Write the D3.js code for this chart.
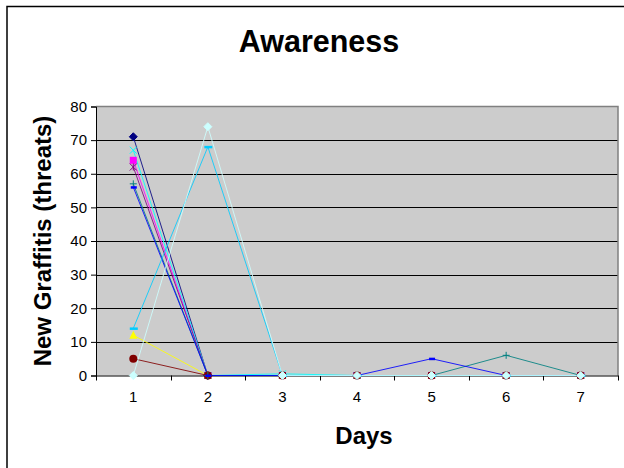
<!DOCTYPE html>
<html><head><meta charset="utf-8">
<script src="https://cdn.jsdelivr.net/npm/d3@7"></script>
<style>body{margin:0;background:#fff}svg{display:block}text{font-family:"Liberation Sans",Arial,sans-serif}</style>
</head><body>
<svg id="c" width="624" height="468"></svg>
<script>
const days = [1,2,3,4,5,6,7];
const yTicks = [0,10,20,30,40,50,60,70,80];
const seriesNames = ["S1","S2","S3","S4","S5","S6","S7","S8","S9","S10"];
const seriesColors = ["#000080","#FF00FF","#FFFF00","#00FFFF","#800080","#800000","#008080","#0000FF","#00CCFF","#CCFFFF"];
const seriesMarkers = ["diamond","square","triangle","x","star","circle","plus","dash","longdash","diamond"];
const s1 = [71,0,0,0,0,0,0];
const s2 = [64,0,0,0,0,0,0];
const s3 = [12,0,0,0,0,0,0];
const s4 = [67,0,0.5,0,0,0,0];
const s5 = [62,0,0,0,0,0,0];
const s6 = [5,0,0,0,0,0,0];
const s7 = [57,0,0,0,0,6,0];
const s8 = [56,0,0,0,5,0,0];
const s9 = [14,68,0,0,0,0,0];
const s10 = [0,74,0,0,0,0,0];
const seriesValues = [s1,s2,s3,s4,s5,s6,s7,s8,s9,s10];

const svg = d3.select("#c");
// outer frame
svg.append("rect").attr("x",7).attr("y",6.5).attr("width",640).attr("height",480)
  .attr("fill","none").attr("stroke","#000").attr("stroke-width",1.5);

const L=96, R=618, T=106.5, B=375.5;
const x = d3.scaleBand().domain(days).range([L,R]);
const y = d3.scaleLinear().domain([0,80]).range([B,T]);

svg.append("rect").attr("x",L).attr("y",T).attr("width",R-L).attr("height",B-T).attr("fill","#cccccc");

// gridlines
svg.append("g").selectAll("line").data(yTicks.filter(d=>d>0 && d<80)).join("line")
  .attr("x1",L).attr("x2",R).attr("y1",d=>Math.round(y(d))+0.5).attr("y2",d=>Math.round(y(d))+0.5)
  .attr("stroke","#000").attr("stroke-width",1);
// plot border top/right
svg.append("path").attr("d",`M${L},${T}H${R}V${B}`).attr("fill","none").attr("stroke","#808080").attr("stroke-width",1.5);

// y axis
const ya = svg.append("g").attr("transform",`translate(${L},0)`)
  .call(d3.axisLeft(y).tickValues(yTicks).tickSize(5).tickPadding(4));
ya.select(".domain").attr("stroke","#000");
ya.selectAll("text").attr("font-size",15).attr("fill","#000").style("font-family","Liberation Sans, Arial, sans-serif");
// x axis
const xa = svg.append("g").attr("transform",`translate(0,${B})`)
  .call(d3.axisBottom(x).tickSize(0).tickPadding(16));
xa.select(".domain").attr("stroke","#000");
xa.selectAll("text").attr("font-size",15).attr("fill","#000").style("font-family","Liberation Sans, Arial, sans-serif");
xa.selectAll("line.sep").data(d3.range(days.length+1)).join("line").attr("class","sep")
  .attr("x1",i=>Math.round(L+i*x.step())+0.5).attr("x2",i=>Math.round(L+i*x.step())+0.5)
  .attr("y1",0).attr("y2",5).attr("stroke","#000");

const cx = d => x(d)+x.bandwidth()/2;
const line = d3.line().x((v,i)=>cx(days[i])).y(v=>y(v));

seriesValues.forEach((vals,k)=>{
  const col = seriesColors[k];
  svg.append("path").attr("d",line(vals)).attr("fill","none").attr("stroke",col).attr("stroke-width",1).attr("opacity",0.85);
});
seriesValues.forEach((vals,k)=>{
  const col = seriesColors[k], m = seriesMarkers[k];
  const g = svg.append("g");
  vals.forEach((v,i)=>{
    const px = cx(days[i]), py = y(v);
    const h = 3.5;
    if (m==="diamond") g.append("path").attr("d",`M${px},${py-h-0.5}L${px+h+0.5},${py}L${px},${py+h+0.5}L${px-h-0.5},${py}Z`).attr("fill",col).attr("stroke",col);
    else if (m==="square") g.append("rect").attr("x",px-h).attr("y",py-h).attr("width",2*h).attr("height",2*h).attr("fill",col);
    else if (m==="triangle") g.append("path").attr("d",`M${px},${py-h-1}L${px+h+0.5},${py+h}L${px-h-0.5},${py+h}Z`).attr("fill",col);
    else if (m==="circle") g.append("circle").attr("cx",px).attr("cy",py).attr("r",h+0.5).attr("fill",col);
    else if (m==="x") g.append("path").attr("d",`M${px-h},${py-h}L${px+h},${py+h}M${px-h},${py+h}L${px+h},${py-h}`).attr("stroke",col).attr("stroke-width",1);
    else if (m==="star") g.append("path").attr("d",`M${px-h},${py-h}L${px+h},${py+h}M${px-h},${py+h}L${px+h},${py-h}M${px},${py-h}V${py+h}`).attr("stroke",col).attr("stroke-width",1);
    else if (m==="plus") g.append("path").attr("d",`M${px-h},${py}H${px+h}M${px},${py-h}V${py+h}`).attr("stroke",col).attr("stroke-width",1);
    else if (m==="dash") g.append("rect").attr("x",px-h+1).attr("y",py-1).attr("width",2*h-1).attr("height",2.5).attr("fill",col);
    else if (m==="longdash") g.append("rect").attr("x",px-h).attr("y",py-1).attr("width",2*h+1).attr("height",2.5).attr("fill",col);
  });
});

// titles
svg.append("text").attr("x",319).attr("y",52).attr("text-anchor","middle").attr("font-size",30.5).attr("font-weight","bold").text("Awareness");
svg.append("text").attr("x",364).attr("y",444).attr("text-anchor","middle").attr("font-size",24).attr("font-weight","bold").text("Days");
svg.append("text").attr("transform","translate(51,241) rotate(-90)").attr("text-anchor","middle").attr("font-size",24).attr("font-weight","bold").text("New Graffitis (threats)");
</script>
</body></html>
